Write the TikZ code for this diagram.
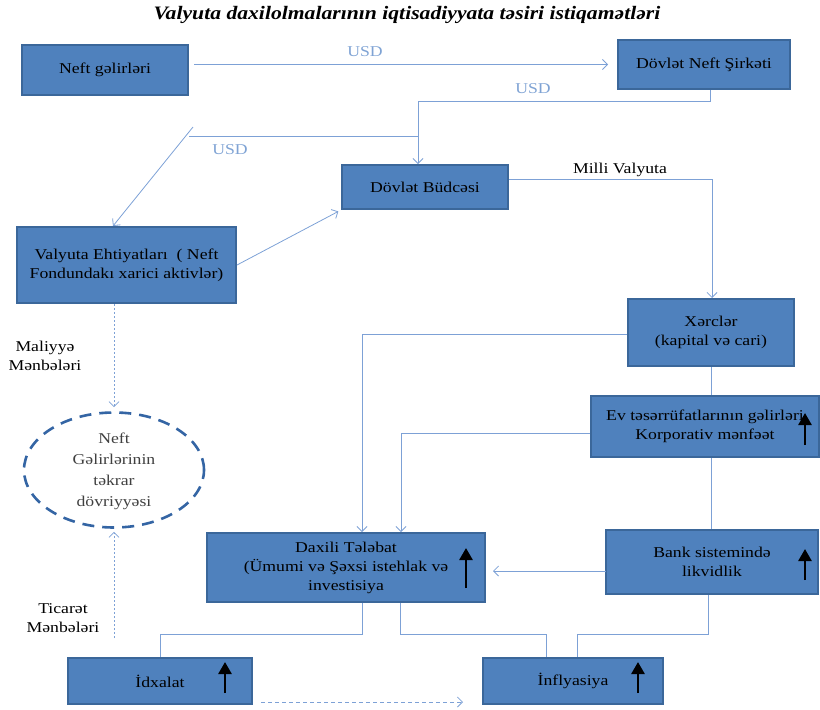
\documentclass[tikz,border=0pt]{standalone}
\usepackage{fontspec}
\setmainfont{Liberation Serif}[FakeStretch=1.18]
\newfontfamily\titlefont{Liberation Serif}[FakeStretch=1.14]
\usetikzlibrary{arrows.meta,shapes.geometric,calc}
\definecolor{boxfill}{HTML}{4F81BD}
\definecolor{boxline}{HTML}{3B679A}
\definecolor{conncol}{HTML}{7DA1D6}
\definecolor{ellcol}{HTML}{3465A4}
\definecolor{usdcol}{HTML}{7FA3D4}
\definecolor{elltext}{HTML}{404040}
\newcommand\dfont{\fontsize{15}{19}\selectfont}
\begin{document}
\begin{tikzpicture}[x=1pt,y=-1pt,
  box/.style={draw=boxline, fill=boxfill, line width=2pt, align=center, font=\dfont, text=black, inner sep=2pt},
  conn/.style={draw=conncol, line width=0.8pt},
  arr/.style={-{Straight Barb[length=5pt,width=10pt]}},
  uparr/.style={draw=black, line width=2.6pt, -{Triangle[length=12pt,width=13pt]}},
  usd/.style={text=usdcol, font=\dfont},
  lbl/.style={text=black, font=\dfont, align=center},
  dots/.style={dash pattern=on 2pt off 2pt}]
\useasboundingbox (0,0) rectangle (820,710);

% title
\node (title) at (407,15) {\titlefont\bfseries\itshape\fontsize{19}{22}\selectfont Valyuta daxilolmalarının iqtisadiyyata təsiri istiqamətləri};

% boxes
\node[box, minimum width=166pt, minimum height=50pt] (ng) at (105,70) {Neft gəlirləri};
\node[box, minimum width=172pt, minimum height=49pt] (dns) at (704,64.5) {Dövlət Neft Şirkəti};
\node[box, minimum width=219pt, minimum height=76pt] (val) at (126.5,265) {Valyuta Ehtiyatları \ ( Neft\\Fondundakı xarici aktivlər)};
\node[box, minimum width=166pt, minimum height=44pt] (bud) at (425,187) {Dövlət Büdcəsi};
\node[box, minimum width=166pt, minimum height=67pt] (xer) at (711,332.5) {Xərclər\\(kapital və cari)};
\node[box, minimum width=228pt, minimum height=61pt] (ev) at (705,426.5) {Ev təsərrüfatlarının gəlirləri\\Korporativ mənfəət};
\node[box, minimum width=278pt, minimum height=69pt] (dax) at (346,567.5) {Daxili Tələbat\\(Ümumi və Şəxsi istehlak və\\investisiya};
\node[box, minimum width=212pt, minimum height=64pt] (bank) at (712,562) {Bank sistemində\\likvidlik};
\node[box, minimum width=184pt, minimum height=46pt] (idx) at (160,681) {İdxalat};
\node[box, minimum width=180pt, minimum height=46pt] (inf) at (573,681) {İnflyasiya};

% ellipse
\node[ellipse, draw=ellcol, line width=2.6pt, dash pattern=on 12pt off 8pt,
      minimum width=180pt, minimum height=115pt, inner sep=0pt, text=elltext,
      font={\fontsize{15}{21}\selectfont}] (ell) at (114,470)
  {\smash{\raisebox{-4pt}{\begin{tabular}[c]{@{}c@{}}Neft\\Gəlirlərinin\\təkrar\\dövriyyəsi\end{tabular}}}};

% black up arrows
\draw[uparr] ([shift={(-20,20.5)}]dax.east) -- ++(0,-40);
\draw[uparr] ([shift={(-15,18.5)}]ev.east) -- ++(0,-32);
\draw[uparr] ([shift={(-14,18)}]bank.east) -- ++(0,-31);
\draw[uparr] ([shift={(-28,12)}]idx.east) -- ++(0,-31);
\draw[uparr] ([shift={(-26,12)}]inf.east) -- ++(0,-31);

% coordinates
\coordinate (c1) at (710,101);
\coordinate (c2) at (418,101);
\coordinate (c3) at (418,136);
\coordinate (c4) at (189,136);
\coordinate (c5) at (193,127);
\coordinate (c6) at (113,226);
\coordinate (c7) at (712,179);
\coordinate (c8) at (362,334);
\coordinate (c9) at (401,433);
\coordinate (c10) at (606,571);
\coordinate (c11) at (362,634);
\coordinate (c12) at (160,634);
\coordinate (c13) at (400,634);
\coordinate (c14) at (546,634);
\coordinate (c15) at (708,634);
\coordinate (c16) at (577,634);
\coordinate (c17) at (260,702);
\coordinate (c18) at (463,702);
\coordinate (c20) at (114,638);

% connectors
\draw[conn,arr,shorten <=5pt,shorten >=9pt] (ng.east |- dns.west) -- (dns.west);
\node[usd] (usd1) at (365,52) {USD};

\draw[conn,arr] (dns.south -| c1) -- (c1) -- (c2) -- (bud.north -| c2);
\node[usd] (usd2) at (533,89) {USD};

\draw[conn] (c3) -- (c4);
\draw[conn,arr] (c5) -- (c6 |- val.north);
\node[usd] (usd3) at (230,150) {USD};

\draw[conn,arr,shorten >=3pt] (val.east) -- (bud.south west);

\draw[conn,arr] (bud.east |- c7) -- (c7) -- (xer.north -| c7);
\node[lbl] (mv) at (620,170) {Milli Valyuta};

\draw[conn,arr] (xer.west |- c8) -- (c8) -- (dax.north -| c8);
\draw[conn] (xer.south) -- (xer.south |- ev.north);
\draw[conn,arr] (ev.west |- c9) -- (c9) -- (dax.north -| c9);
\draw[conn] (xer.south |- ev.south) -- (xer.south |- bank.north);
\draw[conn,arr,shorten >=7pt] (c10) -- (dax.east |- c10);

\draw[conn] (dax.south -| c11) -- (c11) -- (c12) -- (idx.north -| c12);
\draw[conn] (dax.south -| c13) -- (c13) -- (c14) -- (inf.north -| c14);
\draw[conn] (bank.south -| c15) -- (c15) -- (c16) -- (inf.north -| c16);

\draw[conn,arr,dash pattern=on 4pt off 3pt] (idx.east |- c17) ++(8,0) -- (c18);

\draw[conn,arr,dots,shorten >=4pt] (val.south -| ell.north) -- (ell.north);
\draw[conn,arr,dots,shorten >=3pt] (c20) -- (ell.south);

\node[lbl] (mal) at (45,356) {Maliyyə\\Mənbələri};
\node[lbl] (tic) at (63,618) {Ticarət\\Mənbələri};
\end{tikzpicture}
\end{document}
